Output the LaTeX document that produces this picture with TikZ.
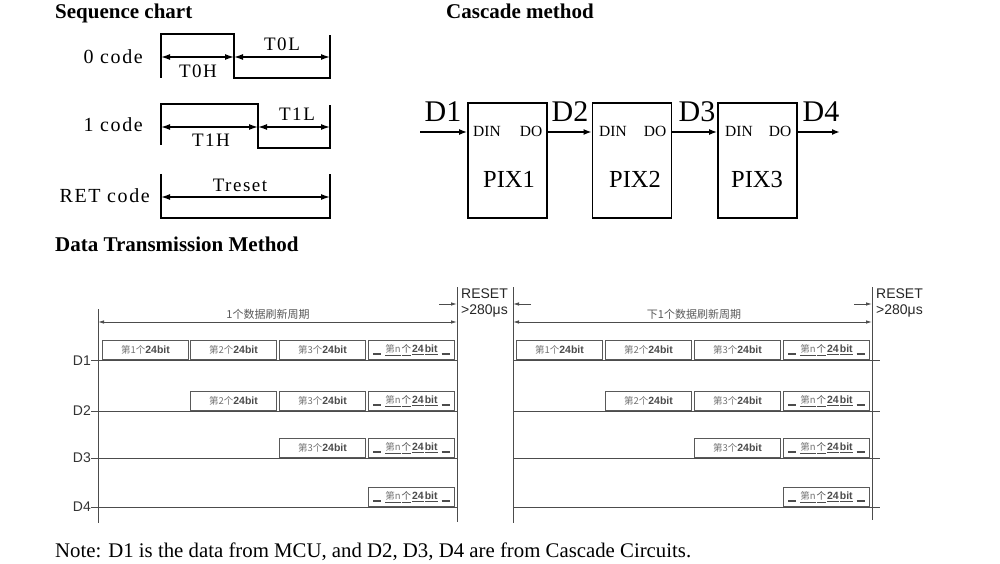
\documentclass[tikz,border=0pt]{standalone}
\usepackage{fontspec}
\setmainfont{Liberation Serif}
\setsansfont{Liberation Sans}
\newfontfamily\cjk{Noto Sans CJK SC}
\newfontfamily\spaced[LetterSpace=8]{Liberation Serif}
\usetikzlibrary{arrows.meta}
\newcommand{\fs}[1]{\fontsize{#1}{#1}\selectfont}
\newcommand{\bitlab}[1]{{\cjk\fs{9.5}\color{black!55}第#1个}{\sffamily\bfseries\fs{10.5}\color{black!70}24bit}}
\newcommand{\bitn}{{\color{black!70}\rule[-2pt]{8pt}{1.2pt}\hspace{4pt}\underline{\cjk\fs{9.5}\color{black!55}第n}\hspace{1pt}\underline{\cjk\fs{9.5}个}\hspace{1pt}\underline{\sffamily\bfseries\fs{10.5}24}\hspace{1pt}\underline{\sffamily\bfseries\fs{10.5}bit}\hspace{4pt}\rule[-2pt]{8pt}{1.2pt}}}
\tikzset{
  wave/.style={line width=1.8pt, black, line join=miter},
  dim/.style={line width=1.4pt, black, {Latex[length=9pt,width=6pt]}-{Latex[length=9pt,width=6pt]}},
  pixbox/.style={draw, line width=1.8pt, minimum width=79pt, minimum height=115pt, inner sep=0pt},
  carr/.style={line width=1.6pt, -{Latex[length=8pt,width=6pt]}},
  dt/.style={line width=1pt, black!70},
  dtarr/.style={line width=0.9pt, black!70, -{Latex[length=6pt,width=3.5pt]}},
  dtdim/.style={line width=0.9pt, black!70, {Latex[length=6pt,width=3.5pt]}-{Latex[length=6pt,width=3.5pt]}},
  bitbox/.style={draw=black!65, line width=1pt, minimum width=86pt, minimum height=19pt, inner sep=0pt, anchor=south west},
  head/.style={anchor=base west, inner sep=0pt, font=\bfseries\fs{21}},
  codelab/.style={anchor=base east, inner sep=0pt, font=\spaced\fs{20}},
  tlab/.style={anchor=base, inner sep=0pt, font=\spaced\fs{19}},
  dlab/.style={anchor=base east, font=\sffamily\fs{14}, text=black!80, inner sep=0pt},
}
\begin{document}
\begin{tikzpicture}[x=1pt,y=-1pt]
\useasboundingbox (0,0) rectangle (1000,564);
% headings
\node[head] (h1) at (55,19) {Sequence chart};
\node[head] (h2) at (446,19) {Cascade method};
\node[head] (h3) at (55,251) {Data Transmission Method};

% ---------- sequence chart ----------
\node[codelab] (c0) at (143,64) {0\ code};
\node[codelab] (c1) at (143,132) {1\ code};
\node[codelab] (c2) at (150,202) {RET\ code};
% 0 code
\draw[wave] (161,78) -- (161,34) -- (234,34) -- (234,78) -- (330,78) -- (330,35);
\coordinate (a0) at (161,57); \coordinate (b0) at (234,57); \coordinate (e0) at (330,57);
\draw[dim] (a0) -- (b0);
\draw[dim] (b0) -- (e0);
\node[tlab] (t0l) at (282,51) {T0L};
\node[tlab] (t0h) at (198,78) {T0H};
% 1 code
\draw[wave] (161,145) -- (161,104) -- (258,104) -- (258,148) -- (330,148) -- (330,105);
\coordinate (a1) at (161,127); \coordinate (b1) at (258,127); \coordinate (e1) at (330,127);
\draw[dim] (a1) -- (b1);
\draw[dim] (b1) -- (e1);
\node[tlab] (t1l) at (297,121) {T1L};
\node[tlab] (t1h) at (211,147) {T1H};
% RET code
\draw[wave] (161,174) -- (161,218) -- (330,218) -- (330,174);
\coordinate (a2) at (161,197); \coordinate (e2) at (330,197);
\draw[dim] (a2) -- (e2);
\node[tlab] (tr) at (240,191) {Treset};

% ---------- cascade ----------
\node[pixbox] (p1) at (507.5,160.5) {};
\node[pixbox] (p2) at (632,160.5) {};
\node[pixbox] (p3) at (757.5,160.5) {};
\foreach \i/\xi/\xo/\xp in {1/487/531/509, 2/613/655/635, 3/739/780/757}{
  \node[anchor=base, font=\fs{15.5}] (din\i) at (\xi,137) {DIN};
  \node[anchor=base, font=\fs{15.5}] (do\i) at (\xo,137) {DO};
  \node[anchor=base, font=\fs{24.5}] (pix\i) at (\xp,187) {PIX\i};
}
\coordinate (in1) at (420,132);
\coordinate (out4) at (840,132);
\draw[carr] (in1) -- (in1 -| p1.west);
\draw[carr] (in1 -| p1.east) -- (in1 -| p2.west);
\draw[carr] (in1 -| p2.east) -- (in1 -| p3.west);
\draw[carr] (in1 -| p3.east) -- (out4);
\node[anchor=base, font=\fs{30}] (cd1) at (443,122) {D1};
\node[anchor=base, font=\fs{30}] (cd2) at (570,122) {D2};
\node[anchor=base, font=\fs{30}] (cd3) at (697,122) {D3};
\node[anchor=base, font=\fs{30}] (cd4) at (821,122) {D4};

% ---------- data transmission ----------
\coordinate (v1t) at (98,309);  \coordinate (v1b) at (98,523);
\coordinate (v2t) at (457,287); \coordinate (v2b) at (457,522);
\coordinate (v3t) at (513,287); \coordinate (v3b) at (513,523);
\coordinate (v4t) at (872,287); \coordinate (v4b) at (872,520);
\draw[dt] (v1t) -- (v1b);
\draw[dt] (v2t) -- (v2b);
\draw[dt] (v3t) -- (v3b);
\draw[dt] (v4t) -- (v4b);
% period arrows
\draw[dtdim] (98,322) -- (457,322);
\draw[dtdim] (513,322) -- (872,322);
\node[anchor=base, font=\cjk\fs{11}, text=black!65] (per1) at (268,318) {1个数据刷新周期};
\node[anchor=base, font=\cjk\fs{11}, text=black!65] (per2) at (694,318) {下1个数据刷新周期};
% reset arrows
\coordinate (r1) at (439,304); \coordinate (r2) at (531,304); \coordinate (r3) at (854,304);
\draw[dtarr] (r1) -- (r1 -| v2t);
\draw[dtarr] (r2) -- (r2 -| v3t);
\draw[dtarr] (r3) -- (r3 -| v4t);
\node[anchor=base west, font=\sffamily\fs{14}, inner sep=0pt, text=black!85] (rs1) at (461,298) {RESET};
\node[anchor=base west, font=\sffamily\fs{14}, inner sep=0pt, text=black!85] (rt1) at (461,314) {>280μs};
\node[anchor=base west, font=\sffamily\fs{14}, inner sep=0pt, text=black!85] (rs2) at (876,298) {RESET};
\node[anchor=base west, font=\sffamily\fs{14}, inner sep=0pt, text=black!85] (rt2) at (876,314) {>280μs};
% rows
\foreach \r/\y/\yb in {1/360/365, 2/411/415, 3/458/462, 4/507/511}{
  \node[dlab] (dl\r) at (91,\yb) {D\r};
  \coordinate (la\r) at (91,\y);
  \coordinate (lb\r) at (457,\y);
  \coordinate (ra\r) at (513,\y);
  \coordinate (rb\r) at (880,\y);
  \draw[dt] (la\r) -- (lb\r);
  \draw[dt] (ra\r) -- (rb\r);
}
% bit boxes: left panel x = 102,190,279,368 ; right panel x = 516,605,694,783
\foreach \side/\xa/\xb/\xc/\xd in {L/102/190/279/368, R/516/605/694/783}{
  \node[bitbox] (\side a1) at (\xa,360) {\bitlab{1}};
  \node[bitbox] (\side a2) at (\xb,360) {\bitlab{2}};
  \node[bitbox] (\side a3) at (\xc,360) {\bitlab{3}};
  \node[bitbox] (\side an) at (\xd,360) {\bitn};
  \node[bitbox] (\side b2) at (\xb,411) {\bitlab{2}};
  \node[bitbox] (\side b3) at (\xc,411) {\bitlab{3}};
  \node[bitbox] (\side bn) at (\xd,411) {\bitn};
  \node[bitbox] (\side c3) at (\xc,458) {\bitlab{3}};
  \node[bitbox] (\side cn) at (\xd,458) {\bitn};
  \node[bitbox] (\side dn) at (\xd,507) {\bitn};
}
% note
\node[anchor=base west, inner sep=0pt, font=\fs{20.8}] (note) at (55,557) {Note: D1 is the data from MCU, and D2, D3, D4 are from Cascade Circuits.};
\end{tikzpicture}
\end{document}
